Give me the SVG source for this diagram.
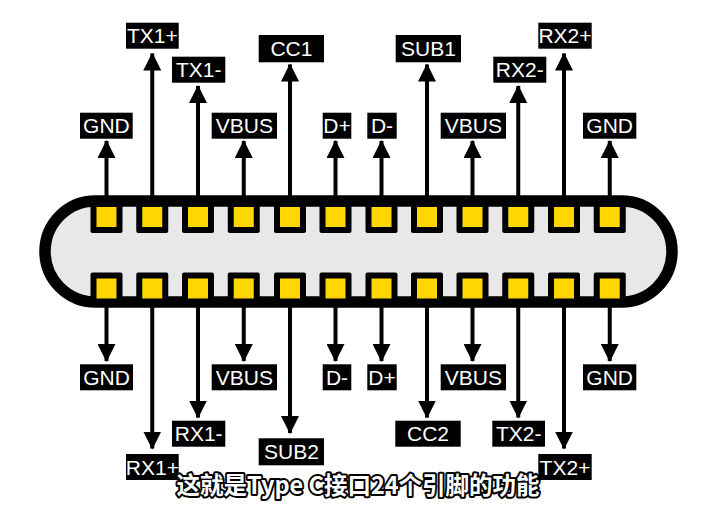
<svg xmlns="http://www.w3.org/2000/svg" width="713" height="505" viewBox="0 0 713 505">
<defs>
<style>
.lbl rect{fill:#000}
.lbl text{fill:#fff;font-family:"Liberation Sans",Arial,sans-serif;font-size:21px;text-anchor:middle}
.pin .o{fill:#000}
.pin .i{fill:#FFD600}
.con line{stroke:#000;stroke-width:4;marker-end:url(#ah)}
.sub{font-family:"Noto Sans CJK SC","Noto Sans",sans-serif;font-size:24px;font-weight:700;fill:#fff;stroke:#000;stroke-width:4;paint-order:stroke;stroke-linejoin:round}
</style>
<marker id="ah" markerUnits="userSpaceOnUse" markerWidth="18" markerHeight="18" viewBox="0 0 18 18" refX="17" refY="9" orient="auto">
<path d="M0,0 L18,9 L0,18 z" fill="#000"/>
</marker>
</defs>
<rect width="713" height="505" fill="#fff"/>
<g id="connectors" class="con">
<line x1="106.5" y1="200" x2="106.5" y2="141"/>
<line x1="152.25" y1="200" x2="152.25" y2="53.5"/>
<line x1="198" y1="200" x2="198" y2="86"/>
<line x1="243.75" y1="200" x2="243.75" y2="141"/>
<line x1="290" y1="200" x2="290" y2="64.5"/>
<line x1="335.5" y1="200" x2="335.5" y2="141"/>
<line x1="381.5" y1="200" x2="381.5" y2="141"/>
<line x1="427" y1="200" x2="427" y2="64.5"/>
<line x1="472.5" y1="200" x2="472.5" y2="141"/>
<line x1="518.25" y1="200" x2="518.25" y2="86"/>
<line x1="564" y1="200" x2="564" y2="53.5"/>
<line x1="609.75" y1="200" x2="609.75" y2="141"/>
<line x1="106.5" y1="302" x2="106.5" y2="361"/>
<line x1="152.25" y1="302" x2="152.25" y2="448.5"/>
<line x1="198" y1="302" x2="198" y2="417.5"/>
<line x1="243.75" y1="302" x2="243.75" y2="361"/>
<line x1="290" y1="302" x2="290" y2="433"/>
<line x1="335.5" y1="302" x2="335.5" y2="361"/>
<line x1="381.5" y1="302" x2="381.5" y2="361"/>
<line x1="427" y1="302" x2="427" y2="417.5"/>
<line x1="472.5" y1="302" x2="472.5" y2="361"/>
<line x1="518.25" y1="302" x2="518.25" y2="417.5"/>
<line x1="564" y1="302" x2="564" y2="448.5"/>
<line x1="609.75" y1="302" x2="609.75" y2="361"/>
</g>
<g id="receptacle">
<rect x="45" y="201" width="627" height="101" rx="50.5" fill="#E8E8E8" stroke="#000" stroke-width="11.5"/>
</g>
<g id="pins-top" class="pin">
<g id="pin-A1"><rect class="o" x="90.5" y="201" width="32" height="32" rx="2"/><rect class="i" x="96.5" y="207" width="20" height="20"/></g>
<g id="pin-A2"><rect class="o" x="136.25" y="201" width="32" height="32" rx="2"/><rect class="i" x="142.25" y="207" width="20" height="20"/></g>
<g id="pin-A3"><rect class="o" x="182" y="201" width="32" height="32" rx="2"/><rect class="i" x="188" y="207" width="20" height="20"/></g>
<g id="pin-A4"><rect class="o" x="227.75" y="201" width="32" height="32" rx="2"/><rect class="i" x="233.75" y="207" width="20" height="20"/></g>
<g id="pin-A5"><rect class="o" x="274" y="201" width="32" height="32" rx="2"/><rect class="i" x="280" y="207" width="20" height="20"/></g>
<g id="pin-A6"><rect class="o" x="319.5" y="201" width="32" height="32" rx="2"/><rect class="i" x="325.5" y="207" width="20" height="20"/></g>
<g id="pin-A7"><rect class="o" x="365.5" y="201" width="32" height="32" rx="2"/><rect class="i" x="371.5" y="207" width="20" height="20"/></g>
<g id="pin-A8"><rect class="o" x="411" y="201" width="32" height="32" rx="2"/><rect class="i" x="417" y="207" width="20" height="20"/></g>
<g id="pin-A9"><rect class="o" x="456.5" y="201" width="32" height="32" rx="2"/><rect class="i" x="462.5" y="207" width="20" height="20"/></g>
<g id="pin-A10"><rect class="o" x="502.25" y="201" width="32" height="32" rx="2"/><rect class="i" x="508.25" y="207" width="20" height="20"/></g>
<g id="pin-A11"><rect class="o" x="548" y="201" width="32" height="32" rx="2"/><rect class="i" x="554" y="207" width="20" height="20"/></g>
<g id="pin-A12"><rect class="o" x="593.75" y="201" width="32" height="32" rx="2"/><rect class="i" x="599.75" y="207" width="20" height="20"/></g>
</g>
<g id="pins-bottom" class="pin">
<g id="pin-B12"><rect class="o" x="90.5" y="272.5" width="32" height="30" rx="2"/><rect class="i" x="96.5" y="278.5" width="20" height="20"/></g>
<g id="pin-B11"><rect class="o" x="136.25" y="272.5" width="32" height="30" rx="2"/><rect class="i" x="142.25" y="278.5" width="20" height="20"/></g>
<g id="pin-B10"><rect class="o" x="182" y="272.5" width="32" height="30" rx="2"/><rect class="i" x="188" y="278.5" width="20" height="20"/></g>
<g id="pin-B9"><rect class="o" x="227.75" y="272.5" width="32" height="30" rx="2"/><rect class="i" x="233.75" y="278.5" width="20" height="20"/></g>
<g id="pin-B8"><rect class="o" x="274" y="272.5" width="32" height="30" rx="2"/><rect class="i" x="280" y="278.5" width="20" height="20"/></g>
<g id="pin-B7"><rect class="o" x="319.5" y="272.5" width="32" height="30" rx="2"/><rect class="i" x="325.5" y="278.5" width="20" height="20"/></g>
<g id="pin-B6"><rect class="o" x="365.5" y="272.5" width="32" height="30" rx="2"/><rect class="i" x="371.5" y="278.5" width="20" height="20"/></g>
<g id="pin-B5"><rect class="o" x="411" y="272.5" width="32" height="30" rx="2"/><rect class="i" x="417" y="278.5" width="20" height="20"/></g>
<g id="pin-B4"><rect class="o" x="456.5" y="272.5" width="32" height="30" rx="2"/><rect class="i" x="462.5" y="278.5" width="20" height="20"/></g>
<g id="pin-B3"><rect class="o" x="502.25" y="272.5" width="32" height="30" rx="2"/><rect class="i" x="508.25" y="278.5" width="20" height="20"/></g>
<g id="pin-B2"><rect class="o" x="548" y="272.5" width="32" height="30" rx="2"/><rect class="i" x="554" y="278.5" width="20" height="20"/></g>
<g id="pin-B1"><rect class="o" x="593.75" y="272.5" width="32" height="30" rx="2"/><rect class="i" x="599.75" y="278.5" width="20" height="20"/></g>
</g>
<g id="label-A1" class="lbl"><rect x="80" y="112.7" width="52.7" height="26"/><text x="106.4" y="133.3">GND</text></g>
<g id="label-A2" class="lbl"><rect x="126" y="22.7" width="52.7" height="26"/><text x="152.4" y="43.3">TX1+</text></g>
<g id="label-A3" class="lbl"><rect x="172" y="56.7" width="53.3" height="26"/><text x="198.7" y="77.3">TX1-</text></g>
<g id="label-A4" class="lbl"><rect x="211.7" y="112.7" width="65.3" height="26"/><text x="244.4" y="133.3">VBUS</text></g>
<g id="label-A5" class="lbl"><rect x="258.7" y="35" width="65.3" height="27.3"/><text x="291.4" y="56.3">CC1</text></g>
<g id="label-A6" class="lbl"><rect x="322.7" y="112.7" width="28.6" height="26"/><text x="337" y="133.3">D+</text></g>
<g id="label-A7" class="lbl"><rect x="367.3" y="112.7" width="29.4" height="26"/><text x="382" y="133.3">D-</text></g>
<g id="label-A8" class="lbl"><rect x="395.7" y="35" width="65.3" height="27.3"/><text x="428.4" y="56.3">SUB1</text></g>
<g id="label-A9" class="lbl"><rect x="440.7" y="112.7" width="65.3" height="26"/><text x="473.4" y="133.3">VBUS</text></g>
<g id="label-A10" class="lbl"><rect x="493.3" y="56.7" width="53" height="26"/><text x="519.8" y="77.3">RX2-</text></g>
<g id="label-A11" class="lbl"><rect x="538.3" y="22.7" width="53.4" height="26"/><text x="565" y="43.3">RX2+</text></g>
<g id="label-A12" class="lbl"><rect x="583" y="112.7" width="53.3" height="26"/><text x="609.7" y="133.3">GND</text></g>
<g id="label-B12" class="lbl"><rect x="80" y="364.3" width="53" height="26"/><text x="106.5" y="385">GND</text></g>
<g id="label-B11" class="lbl"><rect x="126" y="454" width="52.7" height="26"/><text x="152.4" y="474.6">RX1+</text></g>
<g id="label-B10" class="lbl"><rect x="172" y="420.7" width="53.3" height="26"/><text x="198.7" y="441.3">RX1-</text></g>
<g id="label-B9" class="lbl"><rect x="211.7" y="364.3" width="65.3" height="26"/><text x="244.4" y="385">VBUS</text></g>
<g id="label-B8" class="lbl"><rect x="258.7" y="438.3" width="65.3" height="27"/><text x="291.4" y="459.4">SUB2</text></g>
<g id="label-B7" class="lbl"><rect x="322.7" y="364.3" width="28.6" height="26"/><text x="337" y="385">D-</text></g>
<g id="label-B6" class="lbl"><rect x="367.3" y="364.3" width="29.4" height="26"/><text x="382" y="385">D+</text></g>
<g id="label-B5" class="lbl"><rect x="395.3" y="420.7" width="65.4" height="26"/><text x="428" y="441.3">CC2</text></g>
<g id="label-B4" class="lbl"><rect x="440.7" y="364.3" width="65.3" height="26"/><text x="473.4" y="385">VBUS</text></g>
<g id="label-B3" class="lbl"><rect x="492.3" y="420.7" width="52.7" height="26"/><text x="518.7" y="441.3">TX2-</text></g>
<g id="label-B2" class="lbl"><rect x="538.3" y="454" width="53.4" height="26"/><text x="565" y="474.6">TX2+</text></g>
<g id="label-B1" class="lbl"><rect x="583" y="364.3" width="53.3" height="26"/><text x="609.7" y="385">GND</text></g>
<text class="sub" x="176.5" y="494" textLength="363" lengthAdjust="spacingAndGlyphs">这就是Type C接口24个引脚的功能</text>
</svg>
